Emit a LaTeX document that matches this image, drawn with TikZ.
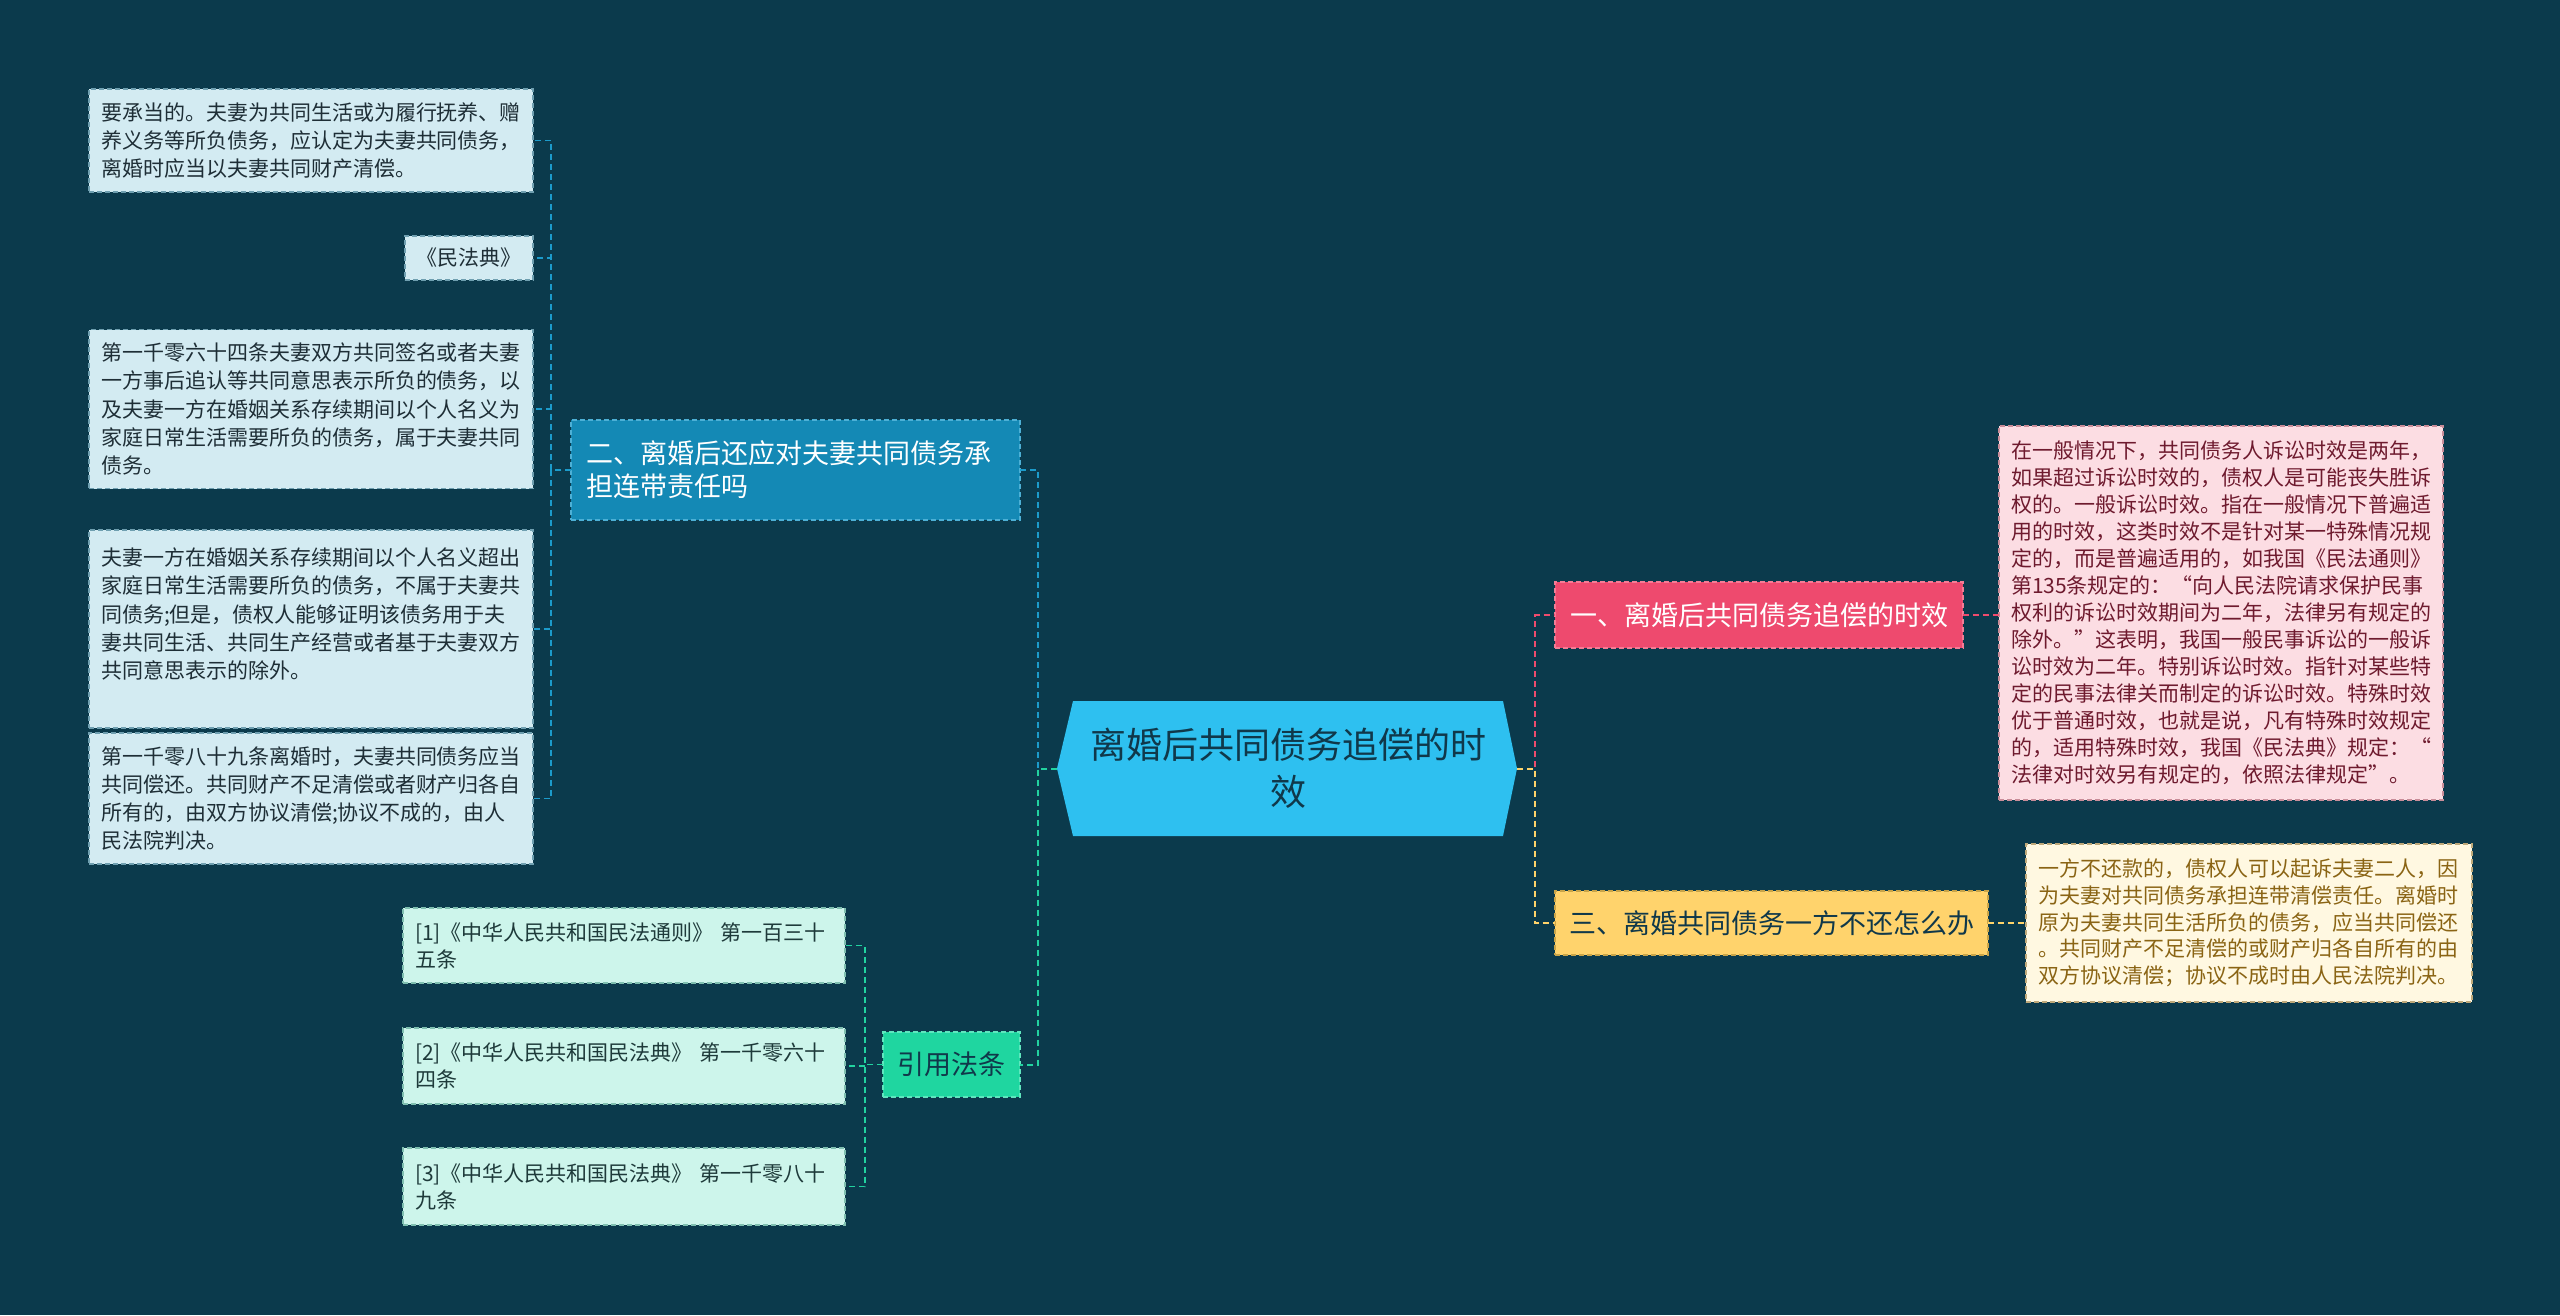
\documentclass[tikz,border=0pt]{standalone}
\usepackage{fontspec}
\newfontfamily\cjk{Noto Sans CJK SC}
\usetikzlibrary{backgrounds}
\definecolor{bgc}{HTML}{0B3A4C}
\definecolor{cfill}{HTML}{2EC0F0}
\definecolor{ctext}{HTML}{10384A}
\definecolor{btwo}{HTML}{1489B5}
\definecolor{btwob}{HTML}{4DB0D6}
\definecolor{lfill}{HTML}{D3EBF2}
\definecolor{lbord}{HTML}{6F9FB0}
\definecolor{ltext}{HTML}{1E2E36}
\definecolor{bone}{HTML}{EE4A6E}
\definecolor{boneb}{HTML}{F47C95}
\definecolor{pfill}{HTML}{FCDDE3}
\definecolor{pbord}{HTML}{C98D99}
\definecolor{ptext}{HTML}{6E1A2E}
\definecolor{bthree}{HTML}{FFD36C}
\definecolor{bthreeb}{HTML}{C9A448}
\definecolor{yfill}{HTML}{FFF8E1}
\definecolor{ybord}{HTML}{BFA97A}
\definecolor{ytext}{HTML}{8A6414}
\definecolor{bcite}{HTML}{1FD6A0}
\definecolor{bciteb}{HTML}{5FE6BE}
\definecolor{rfill}{HTML}{CDF5EB}
\definecolor{rbord}{HTML}{7FBFB0}
\definecolor{rtext}{HTML}{1E3A3A}
\definecolor{lineblue}{HTML}{1C9BCB}
\definecolor{linegreen}{HTML}{22D3A0}
\definecolor{linepink}{HTML}{EE4C6E}
\definecolor{lineyellow}{HTML}{FFD36A}
\tikzset{
  nbase/.style={inner sep=0pt, outer sep=0pt, anchor=center, line width=1.3pt, dash pattern=on 5pt off 3pt},
  leafL/.style={nbase, draw=lbord, fill=lfill, text=ltext, align=left, text width=420pt, minimum width=444pt,
    font=\cjk\fontsize{21}{28.3}\selectfont},
  leafR/.style={nbase, draw=rbord, fill=rfill, text=rtext, align=left, text width=418pt, minimum width=442pt,
    font=\cjk\fontsize{21}{27}\selectfont},
  leafP/.style={nbase, draw=pbord, fill=pfill, text=ptext, align=left, text width=420pt, minimum width=444pt,
    font=\cjk\fontsize{21}{27}\selectfont},
  leafY/.style={nbase, draw=ybord, fill=yfill, text=ytext, align=left, text width=422pt, minimum width=446pt,
    font=\cjk\fontsize{21}{26.7}\selectfont},
  branch/.style={nbase, font=\cjk\fontsize{27}{33}\selectfont, align=left},
  centerbox/.style={inner sep=0pt, outer sep=0pt, minimum width=430pt, minimum height=135pt, align=center,
    text=ctext, font=\cjk\fontsize{36}{47}\selectfont},
  conn/.style={line width=2pt, dash pattern=on 6pt off 4pt},
}
\begin{document}
\begin{tikzpicture}[x=1pt,y=-1pt]
\begin{scope}[on background layer]
  \fill[bgc] (0,0) rectangle (2560,1315);
\end{scope}
\useasboundingbox (0,0) rectangle (2560,1315);

% center
\node[centerbox] (c) at (1288,768.5) {离婚后共同债务追偿的时\\效};
\begin{scope}[on background layer]
  \fill[cfill] (c.north west) -- (c.north east) -- ([xshift=14pt]c.east) -- (c.south east)
     -- (c.south west) -- ([xshift=-16pt]c.west) -- cycle;
\end{scope}
\coordinate (cl) at ([xshift=-16pt]c.west);
\coordinate (cr) at ([xshift=14pt]c.east);

% branch two
\node[branch, draw=btwob, fill=btwo, text=white, text width=419pt, minimum width=449pt, minimum height=100pt]
  (b2) at (795.5,470) {二、离婚后还应对夫妻共同债务承\\担连带责任吗};

% left leaves
\node[leafL, minimum height=103pt] (l1) at (311,140.5)
  {要承当的。夫妻为共同生活或为履行抚养、赠\\养义务等所负债务，应认定为夫妻共同债务，\\离婚时应当以夫妻共同财产清偿。};
\node[nbase, draw=lbord, fill=lfill, text=ltext, font=\cjk\fontsize{21}{27}\selectfont,
  minimum width=128pt, minimum height=44pt] (l2) at (469,258) {《民法典》};
\node[leafL, minimum height=159pt] (l3) at (311,409)
  {第一千零六十四条夫妻双方共同签名或者夫妻\\一方事后追认等共同意思表示所负的债务，以\\及夫妻一方在婚姻关系存续期间以个人名义为\\家庭日常生活需要所负的债务，属于夫妻共同\\债务。};
\node[leafL, minimum height=198pt] (l4) at (311,629)
  {夫妻一方在婚姻关系存续期间以个人名义超出\\家庭日常生活需要所负的债务，不属于夫妻共\\同债务;但是，债权人能够证明该债务用于夫\\妻共同生活、共同生产经营或者基于夫妻双方\\共同意思表示的除外。\par\vspace{30pt}};
\node[leafL, minimum height=131pt] (l5) at (311,798.5)
  {第一千零八十九条离婚时，夫妻共同债务应当\\共同偿还。共同财产不足清偿或者财产归各自\\所有的，由双方协议清偿;协议不成的，由人\\民法院判决。};

% cite branch
\node[branch, draw=bciteb, fill=bcite, text=ctext, minimum width=137pt, minimum height=65pt, align=center]
  (cite) at (951.5,1064.5) {引用法条};
\node[leafR, minimum height=75pt] (r1) at (624,945.5) {[1]《中华人民共和国民法通则》~第一百三十\\五条};
\node[leafR, minimum height=76pt] (r2) at (624,1066) {[2]《中华人民共和国民法典》~第一千零六十\\四条};
\node[leafR, minimum height=77pt] (r3) at (624,1186.5) {[3]《中华人民共和国民法典》~第一千零八十\\九条};

% right branches
\node[branch, draw=boneb, fill=bone, text=white, minimum width=408pt, minimum height=66pt, align=center]
  (b1) at (1759,615) {一、离婚后共同债务追偿的时效};
\node[leafP, minimum height=374pt] (p1) at (2221,613)
  {在一般情况下，共同债务人诉讼时效是两年，\\如果超过诉讼时效的，债权人是可能丧失胜诉\\权的。一般诉讼时效。指在一般情况下普遍适\\用的时效，这类时效不是针对某一特殊情况规\\定的，而是普遍适用的，如我国《民法通则》\\第135条规定的：“向人民法院请求保护民事\\权利的诉讼时效期间为二年，法律另有规定的\\除外。”这表明，我国一般民事诉讼的一般诉\\讼时效为二年。特别诉讼时效。指针对某些特\\定的民事法律关而制定的诉讼时效。特殊时效\\优于普通时效，也就是说，凡有特殊时效规定\\的，适用特殊时效，我国《民法典》规定：“\\法律对时效另有规定的，依照法律规定”。};
\node[branch, draw=bthreeb, fill=bthree, text=ctext, minimum width=433pt, minimum height=64pt, align=center]
  (b3) at (1771.5,923) {三、离婚共同债务一方不还怎么办};
\node[leafY, minimum height=158pt] (y1) at (2249,923)
  {一方不还款的，债权人可以起诉夫妻二人，因\\为夫妻对共同债务承担连带清偿责任。离婚时\\原为夫妻共同生活所负的债务，应当共同偿还\\。共同财产不足清偿的或财产归各自所有的由\\双方协议清偿；协议不成时由人民法院判决。};

% connectors
\draw[conn, lineblue] (cl) -- ++(-19,0) |- (b2.east);
\draw[conn, linegreen] (cl) -- ++(-19,0) |- (cite.east);
\foreach \n in {l1,l2,l3,l4,l5}
  \draw[conn, lineblue, line width=1.5pt] (b2.west) -- ++(-20,0) |- (\n.east);
\foreach \n in {r1,r2,r3}
  \draw[conn, linegreen, line width=1.5pt] (cite.west) -- ++(-18,0) |- (\n.east);
\draw[conn, linepink] (cr) -- ++(18,0) |- (b1.west);
\draw[conn, lineyellow] (cr) -- ++(18,0) |- (b3.west);
\draw[conn, linepink, line width=1.5pt] (b1.east) -- (p1.west |- b1.east);
\draw[conn, lineyellow, line width=1.5pt] (b3.east) -- (y1.west);
\end{tikzpicture}
\end{document}
